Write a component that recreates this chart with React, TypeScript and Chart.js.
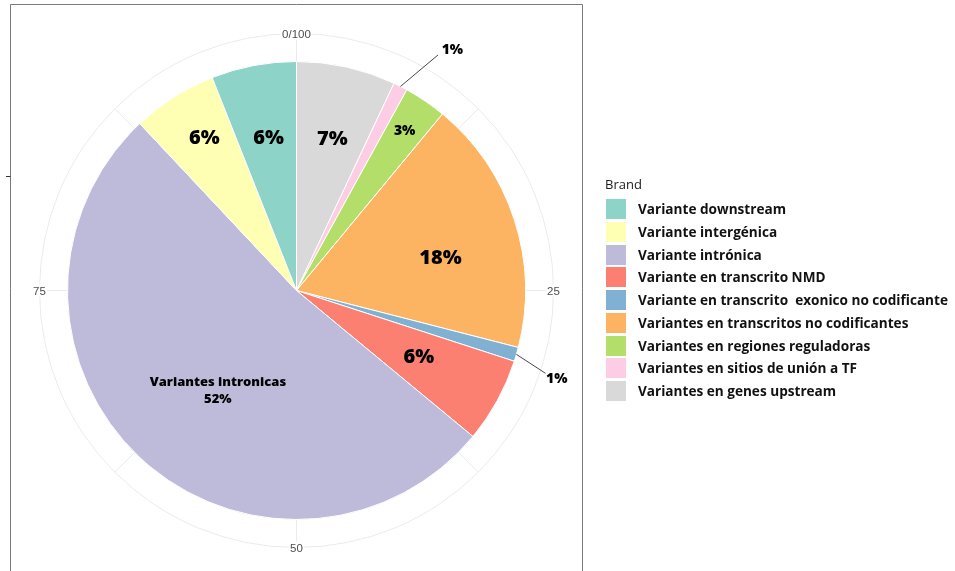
import { useEffect, useRef } from "react";
import { Chart, registerables } from "chart.js";

Chart.register(...registerables);

// Variant categories in legend order (the pie runs the reverse way, clockwise from the top)
const categories = [
  "Variante downstream",
  "Variante intergénica",
  "Variante intrónica",
  "Variante en transcrito NMD",
  "Variante en transcrito  exonico no codificante",
  "Variantes en transcritos no codificantes",
  "Variantes en regiones reguladoras",
  "Variantes en sitios de unión a TF",
  "Variantes en genes upstream",
];
const shares = [6, 6, 52, 6, 1, 18, 3, 1, 7];
const sliceColors = [
  "#8DD3C7",
  "#FFFFB3",
  "#BEBADA",
  "#FB8072",
  "#80B1D3",
  "#FDB462",
  "#B3DE69",
  "#FCCDE5",
  "#D9D9D9",
];
// extra caption shown above the percentage of a slice (empty = none)
const sliceCaptions = ["", "", "Variantes intronicas", "", "", "", "", "", ""];
const thetaTicks = ["0/100", "25", "50", "75"];
const legendTitle = "Brand";

type Placement = {
  r: number; // fraction of the pie radius
  dA: number; // angular nudge in degrees from the slice middle
  size: number;
  leader?: { r: number; dA: number };
};

// label placement per category (legend order)
const placements: Placement[] = [
  { r: 0.675, dA: 0.4, size: 20 },
  { r: 0.776, dA: 1.2, size: 20 },
  { r: 0.555, dA: -5, size: 13 },
  { r: 0.61, dA: 0, size: 20 },
  { r: 1.2, dA: 2.5, size: 14, leader: { r: 1.146, dA: 2.2 } },
  { r: 0.644, dA: 5.5, size: 20 },
  { r: 0.84, dA: 0, size: 14 },
  { r: 1.25, dA: 6, size: 14, leader: { r: 1.2, dA: 4 } },
  { r: 0.68, dA: 0.7, size: 20 },
];

const FONT = "'Open Sans', 'Noto Sans', sans-serif";
const AXIS_FONT = "'Liberation Sans', Arial, sans-serif";

const polarBackground = {
  id: "polarBackground",
  beforeDatasetsDraw(chart: Chart) {
    const arc: any = chart.getDatasetMeta(0).data[0];
    if (!arc) return;
    const { x, y, outerRadius: R } = arc;
    const ctx = chart.ctx;
    const ring = R * 1.1223;
    ctx.save();
    ctx.strokeStyle = "#EBEBEB";
    ctx.lineWidth = 1;
    // spokes every 12.5 units of theta
    for (let k = 0; k < 8; k++) {
      const a = -Math.PI / 2 + (k * Math.PI) / 4;
      ctx.beginPath();
      ctx.moveTo(x, y);
      ctx.lineTo(x + ring * Math.cos(a), y + ring * Math.sin(a));
      ctx.stroke();
    }
    ctx.beginPath();
    ctx.arc(x, y, ring, 0, Math.PI * 2);
    ctx.stroke();
    // theta tick labels sitting on the outer ring
    ctx.font = `11.5px ${AXIS_FONT}`;
    ctx.textAlign = "center";
    ctx.textBaseline = "middle";
    thetaTicks.forEach((t, k) => {
      const a = -Math.PI / 2 + (k * Math.PI) / 2;
      const tx = x + ring * Math.cos(a);
      const ty = y + ring * Math.sin(a);
      const w = ctx.measureText(t).width;
      ctx.fillStyle = "#FFFFFF";
      ctx.fillRect(tx - w / 2 - 1, ty - 6, w + 2, 12);
      ctx.fillStyle = "#4D4D4D";
      ctx.fillText(t, tx, ty + 1);
    });
    ctx.restore();
  },
};

const sliceLabels = {
  id: "sliceLabels",
  afterDatasetsDraw(chart: Chart) {
    const meta = chart.getDatasetMeta(0);
    const ctx = chart.ctx;
    const n = categories.length;
    ctx.save();
    meta.data.forEach((el: any, i: number) => {
      const ci = n - 1 - i; // back to legend order
      const p = placements[ci];
      const { x, y, outerRadius: R, startAngle, endAngle } = el;
      const mid = (startAngle + endAngle) / 2;
      const a = mid + (p.dA * Math.PI) / 180;
      const lx = x + p.r * R * Math.cos(a);
      const ly = y + p.r * R * Math.sin(a);
      const text = `${shares[ci]}%`;
      ctx.fillStyle = "#000000";
      ctx.textBaseline = "middle";
      if (p.leader) {
        const la = mid + (p.leader.dA * Math.PI) / 180;
        ctx.strokeStyle = "#333333";
        ctx.lineWidth = 0.9;
        ctx.beginPath();
        ctx.moveTo(x + R * Math.cos(mid), y + R * Math.sin(mid));
        ctx.lineTo(x + p.leader.r * R * Math.cos(la), y + p.leader.r * R * Math.sin(la));
        ctx.stroke();
      }
      ctx.font = `800 ${p.size}px ${FONT}`;
      ctx.textAlign = "center";
      if (sliceCaptions[ci]) {
        ctx.fillText(sliceCaptions[ci], lx, ly - 8.5);
        ctx.fillText(text, lx, ly + 8.5);
      } else {
        ctx.fillText(text, lx, ly);
      }
    });
    ctx.restore();
  },
};

const frameAndLegend = {
  id: "frameAndLegend",
  afterDraw(chart: Chart) {
    const ctx = chart.ctx;
    const arc: any = chart.getDatasetMeta(0).data[0];
    ctx.save();
    // panel frame
    ctx.strokeStyle = "#7A7A7A";
    ctx.lineWidth = 1;
    ctx.beginPath();
    ctx.moveTo(10.5, 580);
    ctx.lineTo(10.5, 4.5);
    ctx.lineTo(582.5, 4.5);
    ctx.lineTo(582.5, 580);
    ctx.stroke();
    // radial axis tick
    if (arc) {
      const ty = Math.round(arc.y - arc.outerRadius / 2) + 0.5;
      ctx.strokeStyle = "#333333";
      ctx.beginPath();
      ctx.moveTo(6, ty);
      ctx.lineTo(10.5, ty);
      ctx.stroke();
    }
    // legend
    ctx.textBaseline = "middle";
    ctx.textAlign = "left";
    ctx.fillStyle = "#1A1A1A";
    ctx.font = `13px ${FONT}`;
    ctx.fillText(legendTitle, 605, 185);
    const top = 199;
    const pitch = 22.75;
    categories.forEach((c, i) => {
      const by = Math.round(top + i * pitch);
      ctx.fillStyle = sliceColors[i];
      ctx.fillRect(606, by, 20, 20);
      ctx.fillStyle = "#111111";
      ctx.font = `bold 13.6px ${FONT}`;
      ctx.fillText(c, 638, by + 11);
    });
    ctx.restore();
  },
};

export default function App() {
  const canvasRef = useRef<HTMLCanvasElement | null>(null);

  useEffect(() => {
    document.body.style.margin = "0";
    const canvas = canvasRef.current;
    if (!canvas) return;
    const order = categories.map((_, i) => categories.length - 1 - i);
    const chart = new Chart(canvas, {
      type: "pie",
      data: {
        labels: order.map((i) => categories[i]),
        datasets: [
          {
            data: order.map((i) => shares[i]),
            backgroundColor: order.map((i) => sliceColors[i]),
            borderColor: "#FFFFFF",
            borderWidth: 1,
          },
        ],
      },
      options: {
        responsive: false,
        animation: false,
        layout: { padding: { left: 67, top: 61, right: 429, bottom: 51 } },
        plugins: {
          legend: { display: false },
          tooltip: { enabled: false },
        },
      },
      plugins: [polarBackground, sliceLabels, frameAndLegend],
    });
    return () => chart.destroy();
  }, []);

  return (
    <div style={{ width: 955, height: 571, background: "#FFFFFF" }}>
      <canvas ref={canvasRef} width={955} height={571} style={{ display: "block" }} />
    </div>
  );
}
